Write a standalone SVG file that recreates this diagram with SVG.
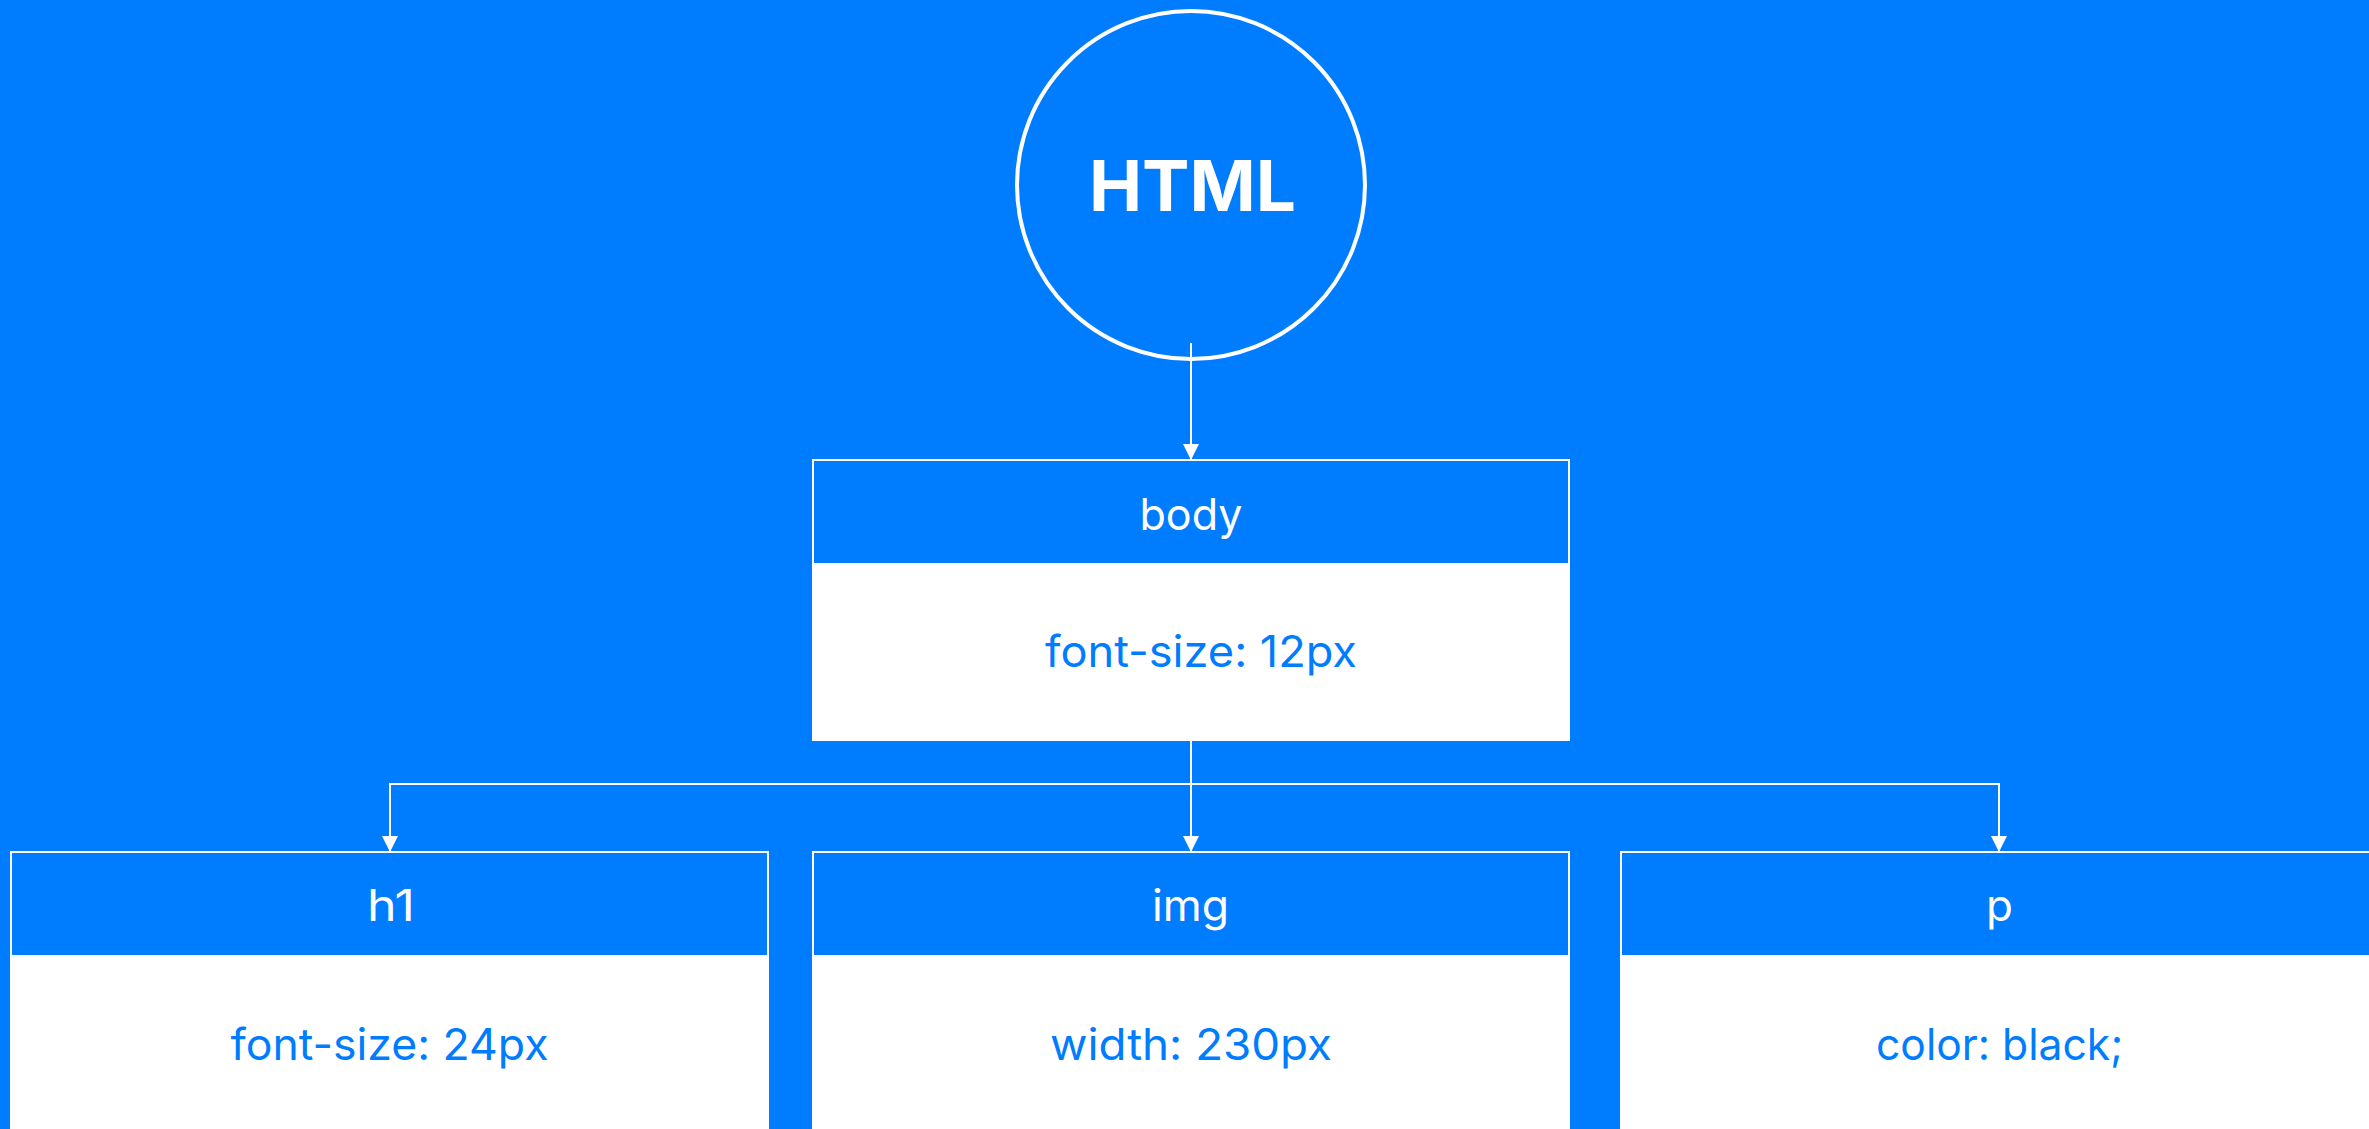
<svg xmlns="http://www.w3.org/2000/svg" width="2369" height="1129" viewBox="0 0 2369 1129">
  <style>
    .bg { fill: #007CFF; }
    .card { fill: #FFFFFF; }
    .head { fill: #007CFF; }
    .frame { fill: none; stroke: #FFFFFF; stroke-width: 2; }
    .ring { fill: none; stroke: #FFFFFF; stroke-width: 4; }
    .edge { fill: none; stroke: #FFFFFF; stroke-width: 2; }
    .title { font-family: Inter, "Liberation Sans", sans-serif; font-size: 70px; font-weight: 700; fill: #FFFFFF; text-anchor: middle; }
    .label { font-family: Inter, "Liberation Sans", sans-serif; font-size: 44px; fill: #FFFFFF; text-anchor: middle; }
    .prop { font-family: Inter, "Liberation Sans", sans-serif; font-size: 44px; fill: #007CFF; text-anchor: middle; }
  </style>
  <defs>
    <marker id="arrow" viewBox="0 0 16 16" markerWidth="16" markerHeight="16" refX="16" refY="8" orient="auto" markerUnits="userSpaceOnUse">
      <path d="M0,0 L16,8 L0,16 z" fill="#FFFFFF"/>
    </marker>
  </defs>
  <rect class="bg" x="0" y="0" width="2369" height="1129"/>

  <g id="node-html">
    <circle class="ring" cx="1191" cy="185" r="174"/>
    <text class="title" x="1192.5" y="210.5" textLength="207" lengthAdjust="spacingAndGlyphs">HTML</text>
  </g>

  <g id="node-body">
    <rect class="card" x="813" y="460" width="756" height="280"/>
    <rect class="head" x="813" y="460" width="756" height="103"/>
    <rect class="frame" x="813" y="460" width="756" height="280"/>
    <text class="label" x="1191" y="530" textLength="103" lengthAdjust="spacingAndGlyphs">body</text>
    <text class="prop" x="1201" y="667" textLength="312" lengthAdjust="spacingAndGlyphs">font-size: 12px</text>
  </g>

  <g id="node-h1">
    <rect class="card" x="11" y="852" width="757" height="290"/>
    <rect class="head" x="11" y="852" width="757" height="103"/>
    <rect class="frame" x="11" y="852" width="757" height="290"/>
    <text class="label" x="391" y="921" textLength="48" lengthAdjust="spacingAndGlyphs">h1</text>
    <text class="prop" x="389.5" y="1060" textLength="318" lengthAdjust="spacingAndGlyphs">font-size: 24px</text>
  </g>

  <g id="node-img">
    <rect class="card" x="813" y="852" width="756" height="290"/>
    <rect class="head" x="813" y="852" width="756" height="103"/>
    <rect class="frame" x="813" y="852" width="756" height="290"/>
    <text class="label" x="1190.5" y="921" textLength="77" lengthAdjust="spacingAndGlyphs">img</text>
    <text class="prop" x="1191" y="1060" textLength="282" lengthAdjust="spacingAndGlyphs">width: 230px</text>
  </g>

  <g id="node-p">
    <rect class="card" x="1621" y="852" width="756" height="290"/>
    <rect class="head" x="1621" y="852" width="756" height="103"/>
    <rect class="frame" x="1621" y="852" width="756" height="290"/>
    <text class="label" x="1999.5" y="921">p</text>
    <text class="prop" x="1999.5" y="1060" textLength="247" lengthAdjust="spacingAndGlyphs">color: black;</text>
  </g>

  <g id="connectors">
    <path class="edge" d="M1191,343 V460" marker-end="url(#arrow)"/>
    <path class="edge" d="M1191,740 V852" marker-end="url(#arrow)"/>
    <path class="edge" d="M1191,784 H390 V852" marker-end="url(#arrow)"/>
    <path class="edge" d="M1191,784 H1999 V852" marker-end="url(#arrow)"/>
  </g>
</svg>
